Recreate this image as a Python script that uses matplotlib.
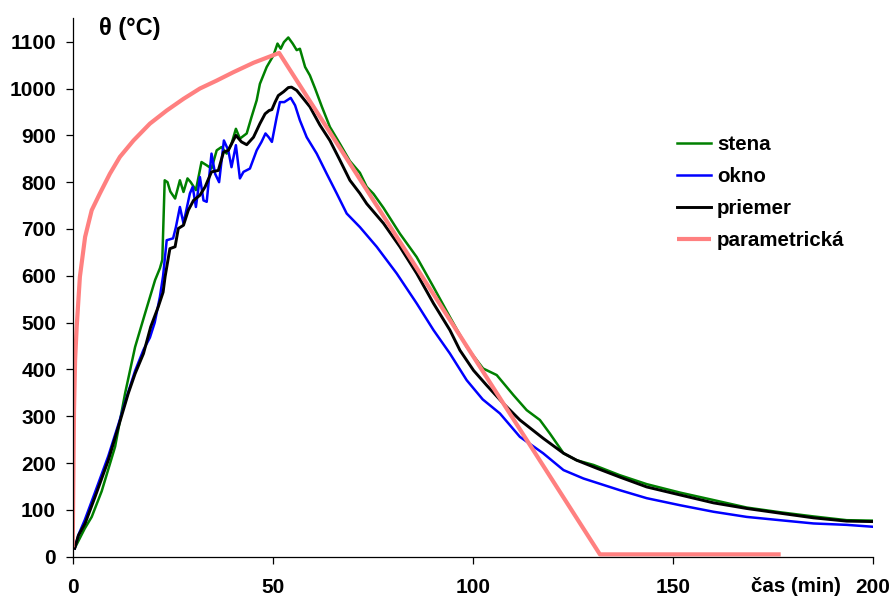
import matplotlib.pyplot as plt

plt.rcParams['font.family'] = ['Liberation Sans', 'DejaVu Sans']
plt.rcParams['font.weight'] = 'bold'

# stena (green)
t_stena = [0.5, 3, 4.75, 7.25, 10.6, 13.1, 15.6, 18.1, 20.6, 21.8, 22.4, 23.0, 23.7, 24.4, 25.6,
           26.8, 27.7, 28.7, 29.5, 30.8, 32.2, 33.5, 34.7, 36.0, 37.2, 38.5, 39.7, 40.8, 41.8,
           43.5, 44.7, 46.0, 46.8, 48.5, 50.2, 51.2, 52.0, 52.8, 53.9, 55.0, 56.0, 56.8, 58.1,
           59.3, 60.6, 62.3, 64.3, 66.8, 69.3, 71.8, 73.5, 75.2, 77.7, 81.8, 86.0, 90.2, 94.3,
           98.5, 102.6, 106.0, 110.2, 113.5, 116.8, 119.3, 122.7, 126.0, 130.2, 136.8, 143.5,
           151.8, 160.2, 168.5, 176.8, 185.2, 193.5, 200]
T_stena = [18, 60, 85, 140, 235, 349, 448, 520, 591, 616, 634, 804, 800, 780, 765,
           804, 779, 808, 800, 783, 843, 836, 829, 868, 875, 861, 882, 914, 893,
           904, 939, 975, 1010, 1046, 1071, 1096, 1085, 1099, 1109, 1096, 1082, 1085, 1046,
           1028, 1000, 961, 918, 882, 845, 820, 790, 775, 745, 690, 640, 576, 512,
           448, 402, 388, 345, 313, 292, 263, 221, 206, 196, 174, 155,
           137, 121, 105, 95, 86, 78, 77]

# okno (blue)
t_okno = [0.5, 1.5, 3, 5.6, 8.9, 11.4, 13.9, 15.6, 17.7, 19.3, 20.5, 21.8, 22.6, 23.5, 25.1,
          25.8, 26.8, 27.7, 29.3, 30.0, 30.8, 31.8, 32.7, 33.5, 34.7, 35.6, 36.6, 37.8, 38.9,
          39.7, 40.8, 41.8, 42.7, 44.3, 46.0, 47.2, 48.2, 49.0, 49.8, 51.0, 51.8, 52.9, 54.5,
          55.6, 56.8, 58.5, 61.0, 63.5, 66.0, 68.5, 71.8, 76.0, 81.0, 86.0, 90.2, 94.3, 98.5,
          102.5, 106.8, 111.8, 117.6, 122.7, 127.7, 136.8, 143.5, 151.8, 160.2, 168.5, 176.8,
          185.2, 193.5, 200]
T_okno = [18, 48, 78, 138, 215, 282, 352, 397, 442, 468, 500, 555, 600, 676, 680,
          704, 747, 712, 776, 790, 747, 811, 761, 758, 861, 818, 800, 889, 868,
          832, 879, 808, 822, 829, 868, 886, 904, 896, 886, 939, 971, 971, 980,
          964, 932, 896, 861, 818, 776, 733, 704, 662, 605, 541, 484, 434, 377,
          336, 306, 256, 221, 185, 167, 142, 125, 110, 96, 85, 78,
          71, 68, 64]

# priemer (black)
t_priemer = [0.5, 1.4, 3.1, 5.6, 8.9, 11.4, 13.9, 15.6, 17.7, 19.5, 21.4, 22.6, 23.1, 24.3,
             25.6, 26.4, 27.7, 28.9, 30.2, 31.8, 33.1, 34.7, 36.4, 37.7, 38.9, 40.8, 42.2,
             43.5, 45.2, 46.8, 48.1, 49.1, 49.8, 50.6, 51.4, 52.7, 53.9, 54.7, 56.0, 57.7,
             59.3, 61.8, 64.3, 66.8, 69.3, 71.8, 73.5, 77.7, 81.8, 86.0, 90.2, 94.3, 96.8,
             100.2, 103.5, 107.7, 111.8, 117.6, 122.7, 126.0, 131.0, 136.8, 143.5, 151.8,
             160.2, 168.5, 176.8, 185.2, 193.5, 200]
T_priemer = [18, 45, 71, 128, 206, 277, 349, 391, 434, 491, 534, 565, 598, 658,
             662, 701, 708, 740, 761, 772, 790, 822, 825, 864, 868, 900, 886,
             880, 896, 925, 946, 953, 955, 971, 985, 993, 1002, 1003, 996, 978,
             961, 922, 889, 847, 804, 776, 754, 712, 662, 605, 541, 484, 441,
             398, 366, 327, 292, 253, 221, 206, 189, 170, 149, 132,
             115, 103, 93, 83, 76, 75]

# parametrická (pink)
t_param = [0, 0.33, 0.6, 1.0, 1.8, 3.1, 4.75, 6.8, 9.3, 11.8, 15.2, 19.3, 23.5, 27.7, 31.8,
           36.0, 40.2, 45.2, 51.6, 131.8, 177]
T_param = [20, 313, 420, 491, 598, 683, 740, 776, 818, 854, 889, 925, 953, 978, 1000,
           1017, 1035, 1055, 1076, 5, 5]

fig = plt.figure(figsize=(8.9, 5.96), dpi=100)
ax = fig.add_axes([72.7 / 890, 1 - 556.7 / 596, 800 / 890, (556.7 - 18.3) / 596])

ax.plot(t_stena, T_stena, color='#008000', lw=1.8, label='stena')
ax.plot(t_okno, T_okno, color='#0000ff', lw=1.8, label='okno')
ax.plot(t_priemer, T_priemer, color='black', lw=2.1, label='priemer')
ax.plot(t_param, T_param, color='#ff8080', lw=3.0, label='parametrická', solid_capstyle='butt')

ax.set_xlim(0, 200)
ax.set_ylim(0, 1150)
ax.set_xticks([0, 50, 100, 150, 200])
ax.set_yticks(range(0, 1101, 100))
ax.spines['top'].set_visible(False)
ax.spines['right'].set_visible(False)
for s in ['left', 'bottom']:
    ax.spines[s].set_linewidth(0.9)
ax.tick_params(axis='both', direction='out', length=5, width=0.9, labelsize=15)
ax.tick_params(axis='x', pad=10)
ax.tick_params(axis='y', pad=7)
for lab in ax.get_xticklabels() + ax.get_yticklabels():
    lab.set_fontweight('bold')

fig.text(130 / 890, 1 - 28 / 596, 'θ (°C)', fontsize=17, fontweight='bold', ha='center', va='center')
fig.text(796 / 890, 1 - 587 / 596, 'čas (min)', fontsize=14.8, fontweight='bold', ha='center', va='center')

ax.legend(loc='upper left', bbox_to_anchor=(677 / 890, 1 - 135 / 596), bbox_transform=fig.transFigure,
          frameon=False, borderpad=0, borderaxespad=0, handlelength=1.65, handletextpad=0.3,
          labelspacing=0.63, prop={'size': 14.8, 'weight': 'bold'})

fig.savefig('out.png', dpi=100)
